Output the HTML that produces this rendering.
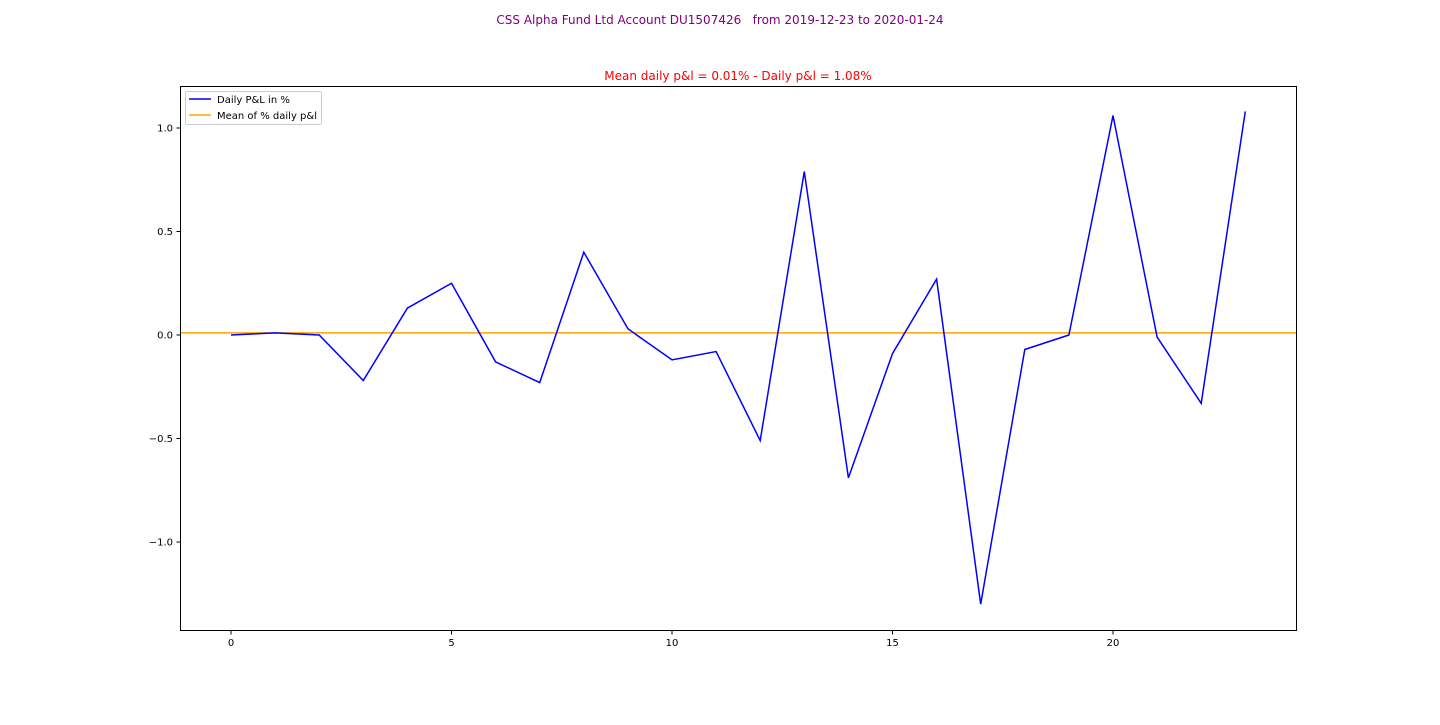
<!DOCTYPE html>
<html><head><meta charset="utf-8"><style>
body{margin:0;background:#fff;width:1440px;height:720px;overflow:hidden;font-family:"Liberation Sans","DejaVu Sans",sans-serif}
svg text{font-family:"DejaVu Sans","Liberation Sans",sans-serif}
</style></head><body>
<svg id="chart" width="1440" height="720" xmlns="http://www.w3.org/2000/svg">
<text x="720" y="24" text-anchor="middle" font-size="12" fill="#800080" style="white-space:pre">CSS Alpha Fund Ltd Account DU1507426   from 2019-12-23 to 2020-01-24</text>
<text x="738" y="80" text-anchor="middle" font-size="12" fill="#ff0000">Mean daily p&amp;l = 0.01% - Daily p&amp;l = 1.08%</text>
<rect x="180.5" y="86.5" width="1116" height="544" fill="none" stroke="#000" stroke-width="1"/>
<g id="xticks"></g>
<g id="yticks"></g>
<g id="series"></g>
<g>
<rect x="185.5" y="91.5" width="136" height="33" fill="#fff" stroke="#ccc" rx="2"/>
<line x1="189" y1="99" x2="211" y2="99" stroke="#0000ff" stroke-width="1.5"/>
<text x="217" y="103" font-size="10">Daily P&amp;L in %</text>
<line x1="189" y1="115" x2="211" y2="115" stroke="#ffa500" stroke-width="1.5"/>
<text x="217" y="119" font-size="10">Mean of % daily p&amp;l</text>
</g>
</svg>
<script>
const xs = [0,1,2,3,4,5,6,7,8,9,10,11,12,13,14,15,16,17,18,19,20,21,22,23];
const pnl = [0,0.01,0,-0.22,0.13,0.25,-0.13,-0.23,0.40,0.03,-0.12,-0.08,-0.51,0.79,-0.69,-0.09,0.27,-1.30,-0.07,0,1.06,-0.01,-0.33,1.08];
const meanVal = [0.01];
const xTicks = [0,5,10,15,20];
const yTicks = [1.0,0.5,0.0,-0.5,-1.0];
const yTickLabels = ["1.0","0.5","0.0","\u22120.5","\u22121.0"];
const NS="http://www.w3.org/2000/svg";
function X(v){return 231+v*44.1;}
function Y(v){return 335-v*207;}
function mk(t,a,p){const e=document.createElementNS(NS,t);for(const k in a)e.setAttribute(k,a[k]);p.appendChild(e);return e;}
const xg=document.getElementById('xticks'),yg=document.getElementById('yticks'),sg=document.getElementById('series');
xTicks.forEach(v=>{
 const l=mk('line',{x1:X(v),x2:X(v),y1:631,y2:634.5,stroke:'#000'},xg);
 
 
 const t=mk('text',{x:X(v),y:646,'text-anchor':'middle','font-size':10},xg);t.textContent=v;
 
 
});
yTicks.forEach((v,i)=>{
 const l=mk('line',{x1:176.5,x2:180,y1:Y(v),y2:Y(v),stroke:'#000'},yg);
 
 
 const t=mk('text',{x:173,y:Y(v)+3.5,'text-anchor':'end','font-size':10},yg);t.textContent=yTickLabels[i];
 
 
});
const m=mk('line',{x1:181,x2:1296,y1:Y(meanVal[0]),y2:Y(meanVal[0]),stroke:'#ffa500','stroke-width':1.5},sg);


const p=mk('polyline',{points:xs.map((x,i)=>X(x)+','+Y(pnl[i])).join(' '),fill:'none',stroke:'#0000ff','stroke-width':1.5},sg);


</script>
</body></html>
